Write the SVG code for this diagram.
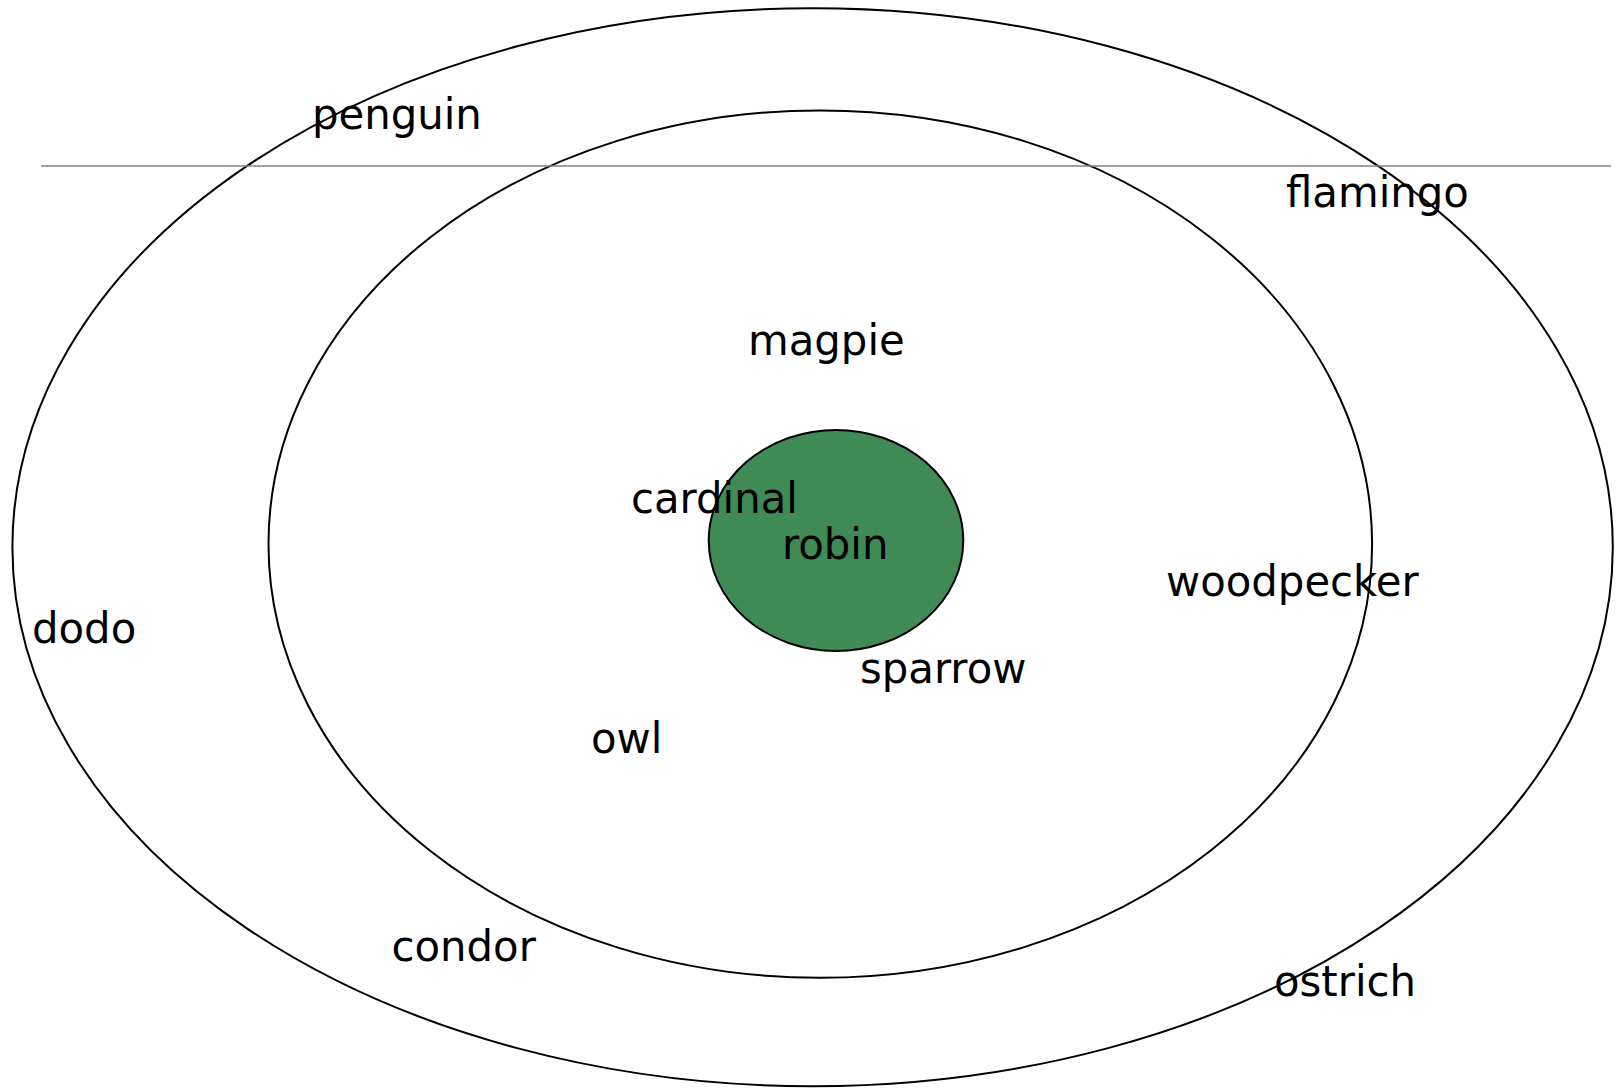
<svg xmlns="http://www.w3.org/2000/svg" width="1619" height="1088" viewBox="0 0 1619 1088">
<style>
.ring{fill:none;stroke:#000;stroke-width:2}
.core{fill:#3f8a55;stroke:#000;stroke-width:2}
.lbl{font-family:"DejaVu Sans",Verdana,sans-serif;font-size:41.8px;fill:#000}
.rule{stroke:#808080;stroke-width:1.5}
</style>
<rect width="1619" height="1088" fill="#fff"/>
<g id="outer"><ellipse class="ring" cx="812.6" cy="547.2" rx="800.2" ry="539"/></g>
<g id="inner"><ellipse class="ring" cx="820.3" cy="544.1" rx="551.8" ry="433.7"/></g>
<g id="core"><ellipse class="core" cx="836" cy="540.5" rx="127.3" ry="110.5"/></g>
<g id="connectors"><line class="rule" x1="41" y1="166" x2="1611" y2="166"/></g>
<g id="labels">
<g id="penguin"><text class="lbl" x="312" y="129">penguin</text></g>
<g id="flamingo"><text class="lbl" x="1286" y="207">flamingo</text></g>
<g id="magpie"><text class="lbl" x="748" y="354.5">magpie</text></g>
<g id="cardinal"><text class="lbl" x="631" y="513">cardinal</text></g>
<g id="robin"><text class="lbl" x="782" y="558.5">robin</text></g>
<g id="woodpecker"><text class="lbl" x="1166" y="596">woodpecker</text></g>
<g id="dodo"><text class="lbl" x="32" y="643">dodo</text></g>
<g id="sparrow"><text class="lbl" x="860" y="682.5">sparrow</text></g>
<g id="owl"><text class="lbl" x="591" y="753">owl</text></g>
<g id="condor"><text class="lbl" x="391.5" y="960.5">condor</text></g>
<g id="ostrich"><text class="lbl" x="1274" y="995.5">ostrich</text></g>
</g>
</svg>
